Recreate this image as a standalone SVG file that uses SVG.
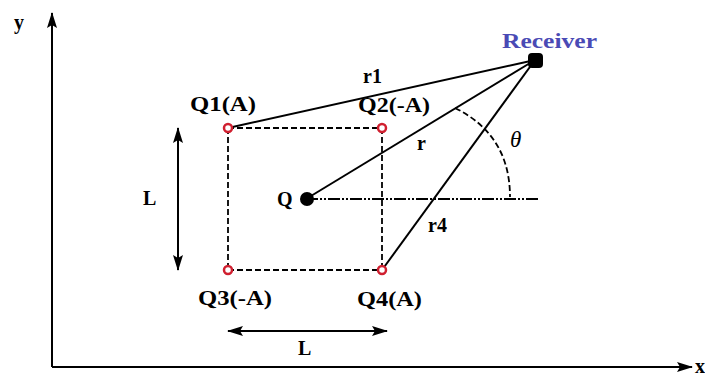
<svg xmlns="http://www.w3.org/2000/svg" width="705" height="376" viewBox="0 0 705 376">
<defs>
<marker id="ah" viewBox="0 0 16 10" refX="15" refY="5" markerWidth="16" markerHeight="10" markerUnits="userSpaceOnUse" orient="auto-start-reverse"><path d="M0,0 L16,5 L0,10 L3,5 z" fill="#000"/></marker>
<marker id="ah2" viewBox="0 0 16 10" refX="15" refY="5" markerWidth="16" markerHeight="10" markerUnits="userSpaceOnUse" orient="auto-start-reverse"><path d="M0,0 L16,5 L0,10 L3,5 z" fill="#000"/></marker>
</defs>
<style>
.t{font-family:"Liberation Serif","Times New Roman",serif;font-weight:bold;font-size:20px;fill:#000}
.ax{stroke:#000;stroke-width:2;fill:none}
.ln{stroke:#000;stroke-width:2;fill:none}
.ds{stroke:#000;stroke-width:1.8;stroke-dasharray:6,3;fill:none}
.q{fill:#fff;stroke:#d02030;stroke-width:2.5}
</style>
<rect width="705" height="376" fill="#fff"/>
<g id="axes">
<line class="ax" x1="52" y1="367" x2="52" y2="13" marker-end="url(#ah2)"/>
<line class="ax" x1="52" y1="367" x2="692" y2="367" marker-end="url(#ah2)"/>
<text class="t" x="14" y="29">y</text>
<text class="t" x="695" y="373">x</text>
</g>
<g id="connectors">
<line class="ds" x1="228" y1="128" x2="382" y2="128"/>
<line class="ds" x1="228" y1="128" x2="228" y2="270"/>
<line class="ds" x1="228" y1="270" x2="382" y2="270"/>
<line class="ds" x1="382" y1="128" x2="382" y2="270" stroke-width="1.3"/>
<line x1="306" y1="199" x2="540" y2="199" stroke="#000" stroke-width="1.8" stroke-dasharray="12,2,2,2,2,2"/>
<line class="ln" x1="535" y1="60" x2="228" y2="128"/>
<line class="ln" x1="535" y1="60" x2="306" y2="199"/>
<line class="ln" x1="535" y1="60" x2="382" y2="270"/>
<path class="ds" d="M455,108 Q510,135 510,197"/>
<line class="ln" x1="178" y1="128" x2="178" y2="270" marker-start="url(#ah)" marker-end="url(#ah)"/>
<line class="ln" x1="228" y1="331" x2="387" y2="331" marker-start="url(#ah)" marker-end="url(#ah)"/>
</g>
<g id="Q1"><circle class="q" cx="228" cy="128" r="4"/><text class="t" x="190" y="111" textLength="66" lengthAdjust="spacingAndGlyphs">Q1(A)</text></g>
<g id="Q2"><circle class="q" cx="382" cy="128" r="4"/><text class="t" x="358" y="112" textLength="72" lengthAdjust="spacingAndGlyphs">Q2(-A)</text></g>
<g id="Q3"><circle class="q" cx="228" cy="270" r="4"/><text class="t" x="198" y="305" textLength="74" lengthAdjust="spacingAndGlyphs">Q3(-A)</text></g>
<g id="Q4"><circle class="q" cx="382" cy="270" r="4"/><text class="t" x="357" y="306" textLength="65" lengthAdjust="spacingAndGlyphs">Q4(A)</text></g>
<g id="Q"><circle cx="307" cy="199" r="7" fill="#000"/><text class="t" x="277" y="206">Q</text></g>
<g id="Receiver"><rect x="528" y="53" width="15" height="15" rx="4" fill="#000"/><text class="t" x="502" y="48" textLength="95" lengthAdjust="spacingAndGlyphs" style="fill:#4a4ab5">Receiver</text></g>
<g id="labels">
<text class="t" x="363" y="83">r1</text>
<text class="t" x="417" y="150">r</text>
<text class="t" x="428" y="232">r4</text>
<text x="510" y="147" font-family="'Liberation Serif',serif" font-style="italic" font-size="23" fill="#000">θ</text>
<text class="t" x="143" y="205">L</text>
<text class="t" x="298" y="355">L</text>
</g>
</svg>
